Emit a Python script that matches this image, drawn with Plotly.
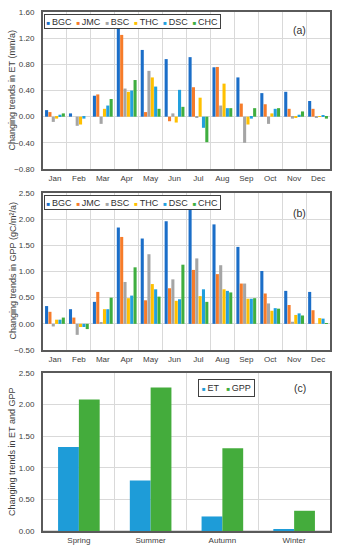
import plotly.graph_objects as go

months = ["Jan", "Feb", "Mar", "Apr", "May", "Jun", "Jul", "Aug", "Sep", "Oct", "Nov", "Dec"]
series = ["BGC", "JMC", "BSC", "THC", "DSC", "CHC"]
colors = ["#1b6ec8", "#f67c2a", "#a5a5a5", "#ffc000", "#22a0de", "#3fae3f"]

et_bgc = [0.10, 0.05, 0.32, 1.35, 1.02, 0.88, 0.91, 0.755, 0.60, 0.36, 0.38, 0.24]
et_jmc = [0.07, 0.00, 0.34, 1.25, 0.07, -0.07, 0.45, 0.76, 0.20, 0.19, 0.12, 0.12]
et_bsc = [-0.08, -0.14, -0.11, 0.43, 0.70, 0.05, -0.02, 0.17, -0.40, -0.11, -0.03, -0.01]
et_thc = [-0.03, -0.12, 0.12, 0.38, 0.60, -0.09, 0.29, 0.505, -0.12, 0.05, -0.02, 0.01]
et_dsc = [0.03, -0.03, 0.17, 0.40, 0.46, 0.41, -0.17, 0.13, -0.03, 0.12, 0.03, 0.02]
et_chc = [0.05, 0.00, 0.27, 0.56, 0.12, 0.15, -0.39, 0.13, 0.13, 0.13, 0.08, -0.03]

gpp_bgc = [0.34, 0.28, 0.42, 1.84, 1.63, 1.96, 2.18, 1.90, 1.47, 1.01, 0.63, 0.61]
gpp_jmc = [0.23, 0.12, 0.61, 1.66, 0.45, 0.68, 1.03, 0.95, 0.77, 0.58, 0.36, 0.26]
gpp_bsc = [-0.05, -0.21, 0.03, 0.80, 1.33, 0.85, 1.25, 1.12, 0.77, 0.39, 0.04, 0.00]
gpp_thc = [0.08, -0.06, 0.28, 0.49, 0.76, 0.44, 0.53, 0.66, 0.48, 0.25, 0.17, 0.11]
gpp_dsc = [0.08, -0.06, 0.28, 0.54, 0.66, 0.47, 0.66, 0.63, 0.48, 0.30, 0.20, 0.10]
gpp_chc = [0.12, -0.10, 0.50, 1.08, 0.52, 1.13, 0.42, 0.60, 0.49, 0.29, 0.16, 0.01]

seasons = ["Spring", "Summer", "Autumn", "Winter"]
season_et = [1.33, 0.80, 0.23, 0.03]
season_gpp = [2.08, 2.27, 1.31, 0.32]
season_colors = ["#1e9cd8", "#44ac3c"]

et_data = [et_bgc, et_jmc, et_bsc, et_thc, et_dsc, et_chc]
gpp_data = [gpp_bgc, gpp_jmc, gpp_bsc, gpp_thc, gpp_dsc, gpp_chc]

FONT = "Liberation Sans, Arial, sans-serif"
fig = go.Figure()

for name, col, vals in zip(series, colors, et_data):
    fig.add_trace(go.Bar(x=months, y=vals, name=name, marker_color=col,
                         marker_line_width=0, xaxis="x", yaxis="y", showlegend=False))
for name, col, vals in zip(series, colors, gpp_data):
    fig.add_trace(go.Bar(x=months, y=vals, name=name, marker_color=col,
                         marker_line_width=0, xaxis="x2", yaxis="y2", showlegend=False))

bw = 0.29
fig.add_trace(go.Bar(x=seasons, y=season_et, name="ET", marker_color=season_colors[0],
                     marker_line_width=0, width=bw, offset=-bw, xaxis="x3", yaxis="y3",
                     showlegend=False))
fig.add_trace(go.Bar(x=seasons, y=season_gpp, name="GPP", marker_color=season_colors[1],
                     marker_line_width=0, width=bw, offset=0, xaxis="x3", yaxis="y3",
                     showlegend=False))

grid = "#d9d9d9"
frame = "#5a5a5a"
tickfont = dict(family=FONT, size=8, color="#404040")
titlefont = dict(family=FONT, size=9, color="#404040")

def xax(anchor, domain=(0, 1)):
    return dict(domain=list(domain), anchor=anchor, type="category", tickson="boundaries",
                showgrid=True, gridcolor=grid, gridwidth=1, ticks="", tickfont=tickfont,
                tickangle=0, automargin=False,
                showline=True, linecolor=frame, linewidth=2, mirror=True, zeroline=False)

def yax(anchor, domain, rng, dtick):
    return dict(domain=list(domain), anchor=anchor, range=rng, dtick=dtick, tick0=0,
                tickformat=".2f", showgrid=True, gridcolor=grid, gridwidth=1,
                zeroline=True, zerolinecolor=grid, zerolinewidth=1, ticks="",
                ticklabelstandoff=5, tickfont=tickfont, automargin=False,
                showline=True, linecolor=frame, linewidth=2, mirror=True)

sq = "<span style='font-size:6px;color:{c}'>■</span>"
sp = "\u2009"
leg_main = "&nbsp;&nbsp;".join(sq.format(c=c) + sp + n for n, c in zip(series, colors))
leg_c = sq.format(c=season_colors[0]) + sp + "ET&nbsp;&nbsp;&nbsp;" + sq.format(c=season_colors[1]) + sp + "GPP"

annfont = dict(family=FONT, size=9, color="#303030")
labfont = dict(family=FONT, size=10.5, color="#303030")
title_x = (12 - 43) / 287
annotations = [
    dict(text=leg_main, xref="x domain", yref="y domain", x=0.004, y=0.99, xanchor="left",
         yanchor="top", showarrow=False, font=annfont, bordercolor="#404040", borderwidth=1,
         borderpad=1.5, bgcolor="white"),
    dict(text=leg_main, xref="x2 domain", yref="y2 domain", x=0.004, y=0.99, xanchor="left",
         yanchor="top", showarrow=False, font=annfont, bordercolor="#404040", borderwidth=1,
         borderpad=1.5, bgcolor="white"),
    dict(text=leg_c, xref="x3 domain", yref="y3 domain", x=0.64, y=0.905, xanchor="center",
         yanchor="middle", showarrow=False, font=annfont, bordercolor="#404040", borderwidth=1,
         borderpad=3, bgcolor="white"),
    dict(text="(a)", xref="paper", yref="y domain", x=0.895, y=0.885, xanchor="center",
         yanchor="middle", showarrow=False, font=labfont),
    dict(text="(b)", xref="paper", yref="y2 domain", x=0.895, y=0.875, xanchor="center",
         yanchor="middle", showarrow=False, font=labfont),
    dict(text="(c)", xref="paper", yref="y3 domain", x=0.895, y=0.905, xanchor="center",
         yanchor="middle", showarrow=False, font=labfont),
    dict(text="Changing trends in ET (mm/a)", xref="paper", yref="y domain", x=title_x, y=0.5,
         xanchor="center", yanchor="middle", textangle=-90, showarrow=False, font=titlefont),
    dict(text="Changing trends in GPP (gC/m²/a)", xref="paper", yref="y2 domain", x=title_x, y=0.5,
         xanchor="center", yanchor="middle", textangle=-90, showarrow=False, font=titlefont),
    dict(text="Changing trends in ET and GPP", xref="paper", yref="y3 domain", x=title_x, y=0.5,
         xanchor="center", yanchor="middle", textangle=-90, showarrow=False, font=titlefont),
]

fig.update_layout(
    width=339, height=550,
    margin=dict(l=43, r=9, t=12, b=19, autoexpand=False),
    paper_bgcolor="white", plot_bgcolor="white",
    barmode="group", bargap=0.16, bargroupgap=0.08,
    font=dict(family=FONT),
    xaxis=xax("y"),
    yaxis=yax("x", (0.6975, 1.0), [-0.8, 1.6], 0.4),
    xaxis2=xax("y2"),
    yaxis2=yax("x2", (0.3487, 0.6513), [-0.5, 2.5], 0.5),
    xaxis3=xax("y3"),
    yaxis3=yax("x3", (0.0, 0.3044), [0, 2.5], 0.5),
    annotations=annotations,
    showlegend=False,
)

fig.write_html("out.html", config={"displayModeBar": False},
               post_script="document.body.style.margin='0';document.body.style.overflow='hidden';")
